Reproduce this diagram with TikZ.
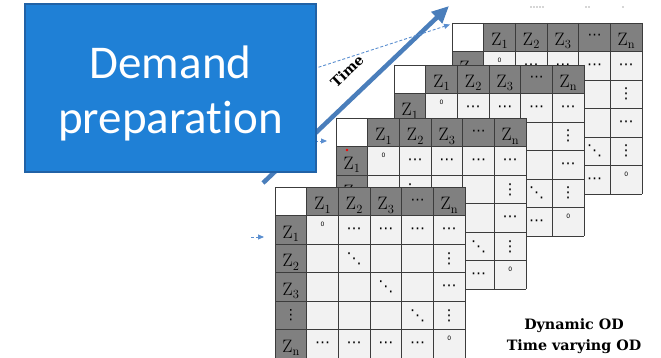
\documentclass[tikz,border=0pt]{standalone}
\usepackage{fontspec}
\newfontfamily\boxfont[Ligatures=NoCommon]{Carlito}
\newfontfamily\dotfont{DejaVu Sans}
\newfontfamily\capfont{DejaVu Serif}
\usetikzlibrary{arrows.meta}
\definecolor{hdr}{HTML}{808080}
\definecolor{cellbg}{HTML}{F2F2F2}
\definecolor{gridcol}{HTML}{3C3C3C}
\definecolor{boxblue}{HTML}{1F80D6}
\definecolor{boxedge}{HTML}{2162A6}
\definecolor{arrowblue}{HTML}{4A7EBB}
\definecolor{dashblue}{HTML}{5B8FD0}
\def\CW{31.67}
\def\CH{28.5}
\newcommand{\zsub}[1]{Z\kern0.2pt{\fontsize{12.5}{12.5}\selectfont\raisebox{-3.3pt}{#1}}}
\newcommand{\odmatrix}[3]{%
\begin{scope}[shift={(#2,#3)}]
\fill[white] (0,0) rectangle (\CW,\CH);
\fill[hdr] (\CW,0) rectangle (6*\CW,\CH);
\fill[hdr] (0,\CH) rectangle (\CW,6*\CH);
\fill[cellbg] (\CW,\CH) rectangle (6*\CW,6*\CH);
\foreach \i in {0,...,6}{
  \draw[gridl] (\i*\CW,0) -- (\i*\CW,6*\CH);
  \draw[gridl] (0,\i*\CH) -- (6*\CW,\i*\CH);}
\node[zlab] (#1-h1) at (1.5*\CW,22.5) {\zsub{1}};
\node[zlab] (#1-h2) at (2.5*\CW,22.5) {\zsub{2}};
\node[zlab] (#1-h3) at (3.5*\CW,22.5) {\zsub{3}};
\node[hdots] (#1-h4) at (4.5*\CW,0.5*\CH) {⋯};
\node[zlab] (#1-h5) at (5.5*\CW,22.5) {\zsub{n}};
\node[zlab] (#1-v1) at (0.5*\CW,\CH+22.5) {\zsub{1}};
\node[zlab] (#1-v2) at (0.5*\CW,2*\CH+22.5) {\zsub{2}};
\node[zlab] (#1-v3) at (0.5*\CW,3*\CH+22.5) {\zsub{3}};
\node[hdots] (#1-v4) at (0.5*\CW,4.5*\CH) {⋮};
\node[zlab] (#1-v5) at (0.5*\CW,5*\CH+22.5) {\zsub{n}};
\node[zero] (#1-11) at (1.5*\CW,\CH+9) {0};
\foreach \c in {2,...,5}{\node[bdots] (#1-1\c) at (\c*\CW+0.5*\CW,1.5*\CH+1) {⋯};}
\node[bdots] (#1-22) at (2.5*\CW,2.5*\CH) {⋱};
\node[bdots] (#1-25) at (5.5*\CW,2.5*\CH) {⋮};
\node[bdots] (#1-33) at (3.5*\CW,3.5*\CH) {⋱};
\node[bdots] (#1-35) at (5.5*\CW,3.5*\CH+1) {⋯};
\node[bdots] (#1-44) at (4.5*\CW,4.5*\CH) {⋱};
\node[bdots] (#1-45) at (5.5*\CW,4.5*\CH) {⋮};
\foreach \c in {1,...,4}{\node[bdots] (#1-5\c) at (\c*\CW+0.5*\CW,5.5*\CH+1) {⋯};}
\node[zero] (#1-55) at (5.5*\CW,5*\CH+9) {0};
\end{scope}}
\begin{document}
\begin{tikzpicture}[x=1pt,y=-1pt,
  gridl/.style={draw=gridcol,line width=0.9pt},
  zlab/.style={anchor=base,inner sep=0pt,font=\fontsize{18}{18}\selectfont},
  hdots/.style={anchor=center,inner sep=0pt,font=\dotfont\fontsize{14}{14}\selectfont},
  bdots/.style={anchor=center,inner sep=0pt,font=\dotfont\fontsize{15}{15}\selectfont},
  zero/.style={anchor=center,inner sep=0pt,font=\dotfont\fontsize{6}{6}\selectfont},
  bluebox/.style={draw=boxedge,line width=2pt,fill=boxblue,minimum width=291pt,minimum height=168pt,inner sep=0pt},
  boxtext/.style={text=white,align=center,inner sep=0pt,font=\boxfont\fontsize{47}{55}\selectfont},
  timearrow/.style={draw=arrowblue,line width=4.5pt,-{Triangle[length=17pt,width=15pt]}},
  dasharrow/.style={draw=dashblue,line width=0.9pt,dash pattern=on 3pt off 2pt,-{Triangle[length=6pt,width=5pt]}},
  timelab/.style={inner sep=0pt,font=\capfont\bfseries\fontsize{14}{16}\selectfont},
  odlab/.style={inner sep=0pt,align=center,font=\capfont\bfseries\fontsize{14.3}{21}\selectfont}]
\useasboundingbox (0,0) rectangle (661,358);
% artifacts at top
\foreach \xx in {531,534,537,540,543,586,589,623}{\fill[black!70] (\xx,7) circle (0.7);}
% matrices back to front
\odmatrix{mD}{452}{23}
\odmatrix{mC}{394}{65}
\odmatrix{mB}{336}{118.3}
\fill[red] (347,150) circle (1.3);
\odmatrix{mA}{275}{187.3}
% arrows
\coordinate (ttail) at (263,183);
\coordinate (ttip) at (449,6);
\draw[timearrow] (ttail) -- (ttip);
\coordinate (d1s) at (290,76.5);
\coordinate (d1e) at (450,24.5);
\draw[dasharrow] (d1s) -- (d1e);
\coordinate (d2s) at (305,141);
\coordinate (d2e) at (327,141);
\draw[dasharrow] (d2s) -- (d2e);
\coordinate (d3s) at (251,237);
\coordinate (d3e) at (264,237);
\draw[dasharrow] (d3s) -- (d3e);
\node[timelab,rotate=43.6] (timelabel) at (347,71) {Time};
% box
\node[bluebox] (box) at (170.5,88.2) {};
\node[boxtext] (boxlabel) at (170.5,93) {Demand\\preparation};
% caption
\node[odlab] (od) at (574,335.7) {Dynamic OD\\Time varying OD};
\end{tikzpicture}
\end{document}
